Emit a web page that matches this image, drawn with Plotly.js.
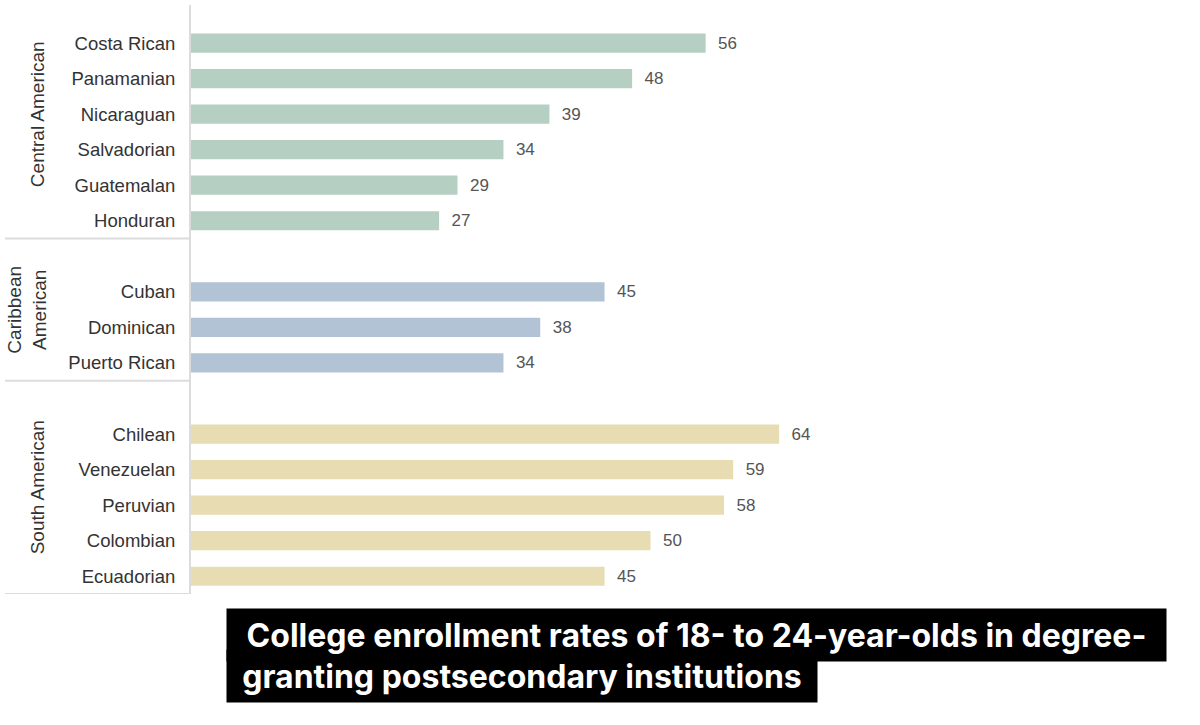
<!DOCTYPE html>
<html>
<head>
<meta charset="utf-8">
<script src="https://cdn.plot.ly/plotly-3.0.1.min.js"></script>
<style>html,body{margin:0;padding:0;background:#fff;}#chart{width:1200px;height:725px;}</style>
</head>
<body>
<div id="chart"></div>
<script>
// ---- Data ----
const groupNames = ['Central American', 'Caribbean<br>American', 'South American'];
const centralNames = ['Costa Rican', 'Panamanian', 'Nicaraguan', 'Salvadorian', 'Guatemalan', 'Honduran'];
const centralValues = [56, 48, 39, 34, 29, 27];
const caribbeanNames = ['Cuban', 'Dominican', 'Puerto Rican'];
const caribbeanValues = [45, 38, 34];
const southNames = ['Chilean', 'Venezuelan', 'Peruvian', 'Colombian', 'Ecuadorian'];
const southValues = [64, 59, 58, 50, 45];
const groupColors = ['#b5cfc3', '#b1c3d4', '#e8ddb2'];
const titleLine1 = 'College enrollment rates of 18- to 24-year-olds in degree-';
const titleLine2 = 'granting postsecondary institutions';

// ---- Build ----
const groups = [
  {label: groupNames[0], names: centralNames, values: centralValues, color: groupColors[0]},
  {label: groupNames[1], names: caribbeanNames, values: caribbeanValues, color: groupColors[1]},
  {label: groupNames[2], names: southNames, values: southValues, color: groupColors[2]}
];

const W = 1200, H = 725;
const ML = 191, MR = 20, MT = 5, MB = 131;
const plotW = W - ML - MR, plotH = H - MT - MB;
const px2paperX = px => (px - ML) / plotW;
const px2paperY = py => (H - MB - py) / plotH;

const traces = [];
const tickvals = [], ticktext = [];
const shapes = [], annotations = [];
let pos = 0;
groups.forEach(g => {
  const ys = g.names.map((_, i) => pos + i);
  ys.forEach((y, i) => { tickvals.push(y); ticktext.push(g.names[i]); });
  traces.push({
    type: 'bar', orientation: 'h',
    x: g.values, y: ys,
    marker: {color: g.color},
    width: 0.54,
    text: g.values.map(v => String(v)),
    textposition: 'outside',
    texttemplate: '  %{text}',
    textfont: {family: 'Liberation Sans, Arial, sans-serif', size: 17, color: '#555555'},
    cliponaxis: false,
    hoverinfo: 'skip'
  });
  const n = g.names.length;
  const sep = pos + n - 0.5;
  shapes.push({type: 'line', xref: 'paper', yref: 'y', x0: px2paperX(5), x1: 0, y0: sep, y1: sep,
    line: {color: '#dcdcdc', width: 2}});
  annotations.push({
    xref: 'paper', yref: 'y', x: px2paperX(g.label.indexOf('<br>') >= 0 ? 27 : 37), y: pos + (n - 2) / 2,
    text: g.label, textangle: -90, showarrow: false, xanchor: 'center', yanchor: 'middle',
    font: {family: 'Liberation Sans, Arial, sans-serif', size: 19, color: '#333333'}
  });
  pos += n + 1;
});

// second title line first, so the first line's box and text sit on top of it
annotations.push({
  xref: 'paper', yref: 'paper', x: px2paperX(226), y: px2paperY(649), xanchor: 'left', yanchor: 'top',
  text: titleLine2, showarrow: false, bgcolor: '#000000', borderpad: 0, width: 590, height: 52, align: 'center',
  font: {family: 'Inter, sans-serif', size: 32, color: '#ffffff', weight: 700}
});
annotations.push({
  xref: 'paper', yref: 'paper', x: px2paperX(226), y: px2paperY(608), xanchor: 'left', yanchor: 'top',
  text: titleLine1, showarrow: false, bgcolor: '#000000', borderpad: 0, width: 939, height: 52, align: 'center',
  font: {family: 'Inter, sans-serif', size: 32, color: '#ffffff', weight: 700}
});

const layout = {
  width: W, height: H,
  margin: {l: ML, r: MR, t: MT, b: MB},
  paper_bgcolor: '#ffffff', plot_bgcolor: '#ffffff',
  showlegend: false,
  barmode: 'overlay',
  xaxis: {range: [0, plotW / 9.19], visible: false, showgrid: false, zeroline: false},
  yaxis: {
    range: [15.5, -1.07], tickmode: 'array', tickvals: tickvals, ticktext: ticktext,
    showgrid: false, zeroline: false, showline: true, linecolor: '#dcdcdc', linewidth: 2,
    ticks: '', ticklabelstandoff: 10,
    tickfont: {family: 'Liberation Sans, Arial, sans-serif', size: 18.5, color: '#333333'}
  },
  shapes: shapes,
  annotations: annotations
};

Plotly.newPlot('chart', traces, layout, {displayModeBar: false, staticPlot: true});
</script>
</body>
</html>
